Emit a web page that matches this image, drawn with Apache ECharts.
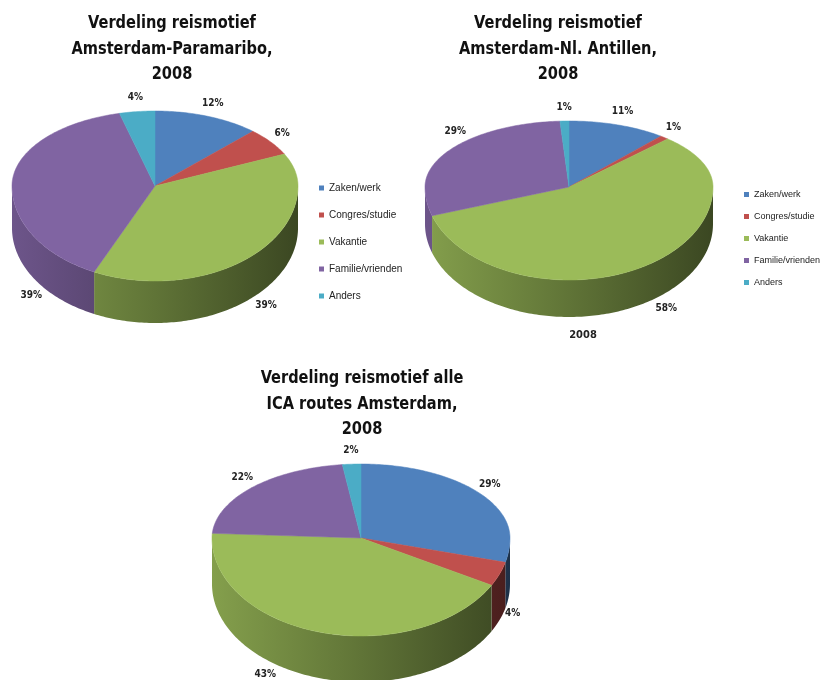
<!DOCTYPE html>
<html>
<head>
<meta charset="utf-8">
<script src="https://cdn.jsdelivr.net/npm/echarts@6/dist/echarts.min.js"></script>
<style>
  html, body { margin: 0; padding: 0; background: #ffffff; }
  #chart { width: 821px; height: 680px; }
</style>
</head>
<body>
<div id="chart"></div>
<script>
// ---- data ----
const categories = ['Zaken/werk', 'Congres/studie', 'Vakantie', 'Familie/vrienden', 'Anders'];
const paramariboValues = [12, 6, 39, 39, 4];
const antillenValues = [11, 1, 58, 29, 1];
const allRoutesValues = [29, 4, 43, 22, 2];
const titleParamaribo = ['Verdeling reismotief', 'Amsterdam-Paramaribo,', '2008'];
const titleAntillen = ['Verdeling reismotief', 'Amsterdam-Nl. Antillen,', '2008'];
const titleAllRoutes = ['Verdeling reismotief alle', 'ICA routes Amsterdam,', '2008'];
const antillenAxisLabel = '2008';

// ---- styles / layout ----
const colors = ['#4F81BD', '#C0504D', '#9BBB59', '#8064A2', '#4BACC6'];
const FONT = "'Liberation Sans Narrow', 'DejaVu Sans Condensed', 'Liberation Sans', sans-serif";

const pies = [
  { values: paramariboValues, cx: 155, cy: 186, rx: 143, up: 75, down: 95, depth: 42, labelAngle: { 3: 232 } },
  { values: antillenValues, cx: 569, cy: 187, rx: 144, up: 66, down: 93, depth: 37, labelAngle: { 2: 142, 3: 314 } },
  { values: allRoutesValues, cx: 361, cy: 538, rx: 149, up: 74, down: 98, depth: 46, labelAngle: { 2: 216 } }
];

function shade(hex, f) {
  const n = parseInt(hex.slice(1), 16);
  const r = Math.round(((n >> 16) & 255) * f);
  const g = Math.round(((n >> 8) & 255) * f);
  const b = Math.round((n & 255) * f);
  return 'rgb(' + r + ',' + g + ',' + b + ')';
}

function proj(p, deg, k) {
  const t = deg * Math.PI / 180;
  const u = Math.sin(t), v = -Math.cos(t);
  return [p.cx + p.rx * k * u, p.cy + (v < 0 ? p.up : p.down) * k * v];
}

function makeRender(p, idx) {
  return function (params, api) {
    const total = p.values.reduce((a, b) => a + b, 0);
    let before = 0;
    for (let j = 0; j < idx; j++) before += p.values[j];
    const val = api.value(0);
    const a0 = before / total * 360;
    const a1 = (before + val) / total * 360;
    const children = [];
    // wall (front half 90..270)
    const w0 = Math.max(a0, 90), w1 = Math.min(a1, 270);
    if (w1 > w0) {
      const topPts = [], botPts = [];
      const steps = Math.max(2, Math.ceil((w1 - w0) / 1));
      for (let s = 0; s <= steps; s++) {
        const d = w0 + (w1 - w0) * s / steps;
        const pt = proj(p, d, 1);
        topPts.push(pt);
        botPts.push([pt[0], pt[1] + p.depth]);
      }
      const poly = topPts.concat(botPts.reverse());
      children.push({
        type: 'polygon',
        shape: { points: poly },
        style: {
          fill: {
            type: 'linear', global: true,
            x: p.cx - p.rx, y: 0, x2: p.cx + p.rx, y2: 0,
            colorStops: [
              { offset: 0, color: shade(colors[idx], 0.85) },
              { offset: 0.5, color: shade(colors[idx], 0.62) },
              { offset: 1, color: shade(colors[idx], 0.38) }
            ]
          }
        }
      });
    }
    // top surface
    const pts = [[p.cx, p.cy]];
    const steps = Math.max(2, Math.ceil(a1 - a0));
    for (let s = 0; s <= steps; s++) {
      pts.push(proj(p, a0 + (a1 - a0) * s / steps, 1));
    }
    children.push({
      type: 'polygon',
      shape: { points: pts },
      style: { fill: colors[idx], stroke: colors[idx], lineWidth: 0.5 }
    });
    // label
    const la = (p.labelAngle[idx] !== undefined) ? p.labelAngle[idx] : (a0 + a1) / 2;
    const t = la * Math.PI / 180;
    const u = Math.sin(t), v = -Math.cos(t);
    const rim = proj(p, la, 1);
    const dd = v > 0 ? p.depth * Math.min(1, v * 2) : 0;
    const lx = rim[0] + 14 * u;
    const ly = rim[1] + dd + 14 * v;
    children.push({
      type: 'text',
      x: lx, y: ly,
      style: {
        text: Math.round(val / total * 100) + '%',
        fontSize: 10, fontWeight: 'bold', fontFamily: FONT,
        fill: '#222', align: 'center', verticalAlign: 'middle'
      }
    });
    return { type: 'group', children: children };
  };
}

const series = [];
pies.forEach(function (p) {
  categories.forEach(function (name, i) {
    series.push({
      type: 'custom',
      name: name,
      coordinateSystem: 'none',
      color: colors[i],
      silent: true,
      data: [[p.values[i]]],
      renderItem: makeRender(p, i)
    });
  });
});

function titleText(lines, x, y) {
  return {
    type: 'text', x: x, y: y, scaleX: 0.9,
    style: {
      text: lines.join('\n'), align: 'center', verticalAlign: 'top',
      fontSize: 18, fontWeight: 'bold', fontFamily: FONT, lineHeight: 25.5, fill: '#111'
    }
  };
}

const chart = echarts.init(document.getElementById('chart'), null, { renderer: 'canvas' });
chart.setOption({
  animation: false,
  backgroundColor: '#ffffff',
  legend: [
    {
      data: categories, orient: 'vertical', left: 314, top: 178,
      icon: 'rect', itemWidth: 5, itemHeight: 5, itemGap: 17, selectedMode: false,
      textStyle: { fontSize: 10, color: '#222', fontFamily: "'Liberation Sans', sans-serif" }
    },
    {
      data: categories, orient: 'vertical', left: 739, top: 185,
      icon: 'rect', itemWidth: 5, itemHeight: 5, itemGap: 13, selectedMode: false,
      textStyle: { fontSize: 9, color: '#222', fontFamily: "'Liberation Sans', sans-serif" }
    }
  ],
  graphic: [
    titleText(titleParamaribo, 172, 11),
    titleText(titleAntillen, 558, 11),
    titleText(titleAllRoutes, 362, 366),
    {
      type: 'text', x: 583, y: 335,
      style: { text: antillenAxisLabel, align: 'center', verticalAlign: 'middle',
        fontSize: 11, fontWeight: 'bold', fontFamily: FONT, fill: '#222' }
    }
  ],
  series: series
});
</script>
</body>
</html>
